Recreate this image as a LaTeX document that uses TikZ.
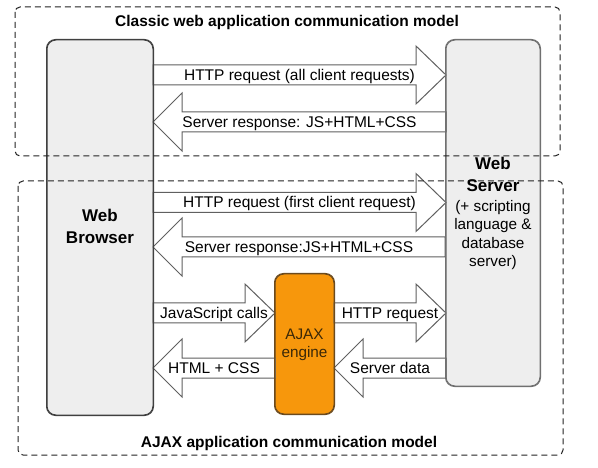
\documentclass[tikz,border=0pt]{standalone}
\usepackage{fontspec}
\setmainfont{Liberation Sans}
\definecolor{boxfill}{HTML}{EEEEEE}
\definecolor{boxline}{HTML}{404040}
\definecolor{srvline}{HTML}{707070}
\definecolor{arrline}{HTML}{606060}
\definecolor{ajaxfill}{HTML}{F7970C}
\definecolor{ajaxline}{HTML}{6B4A1E}
\definecolor{ajaxtext}{HTML}{3A2808}
\definecolor{dashcol}{HTML}{222222}
\newcommand\RArr[5]{% name, x0, x1 (tip), yc, label
  \draw[blockarrow] (#2,#4-10) -- (#3-30,#4-10) -- (#3-30,#4-29) -- (#3,#4)
     -- (#3-30,#4+29) -- (#3-30,#4+10) -- (#2,#4+10) -- cycle;
  \node[lbl] (#1) at ({(#2+#3)/2},#4+5.5) {#5};}
\newcommand\LArr[5]{% name, x0 (tip), x1, yc, label
  \draw[blockarrow] (#3,#4-10) -- (#2+29,#4-10) -- (#2+29,#4-29) -- (#2,#4)
     -- (#2+29,#4+29) -- (#2+29,#4+10) -- (#3,#4+10) -- cycle;
  \node[lbl] (#1) at ({(#2+#3)/2},#4+5.5) {#5};}
\begin{document}
\begin{tikzpicture}[x=1pt,y=-1pt,
  dashbox/.style={draw=dashcol, dash pattern=on 6pt off 4pt, rounded corners=5pt, line width=1pt},
  procbox/.style={rounded corners=9pt, line width=1pt, inner sep=0pt, fill=boxfill},
  blockarrow/.style={draw=arrline, fill=white, line width=1pt, line join=miter},
  lbl/.style={anchor=base, inner sep=0pt, font=\fontsize{15.5}{17}\selectfont},
  ttl/.style={anchor=base, inner sep=0pt, font=\fontsize{15.5}{17}\selectfont\bfseries},
  big/.style={anchor=base, inner sep=0pt, font=\fontsize{17}{20}\selectfont\bfseries},
  sub/.style={anchor=base, inner sep=0pt, font=\fontsize{15.3}{18}\selectfont}]
\useasboundingbox[fill=white] (0,0) rectangle (598,468);

% main boxes
\node[procbox, draw=boxline, minimum width=106pt, minimum height=375pt] (browser) at (100,227.5) {};
\node[procbox, draw=srvline, minimum width=94pt, minimum height=346pt] (server) at (493,213) {};
\node[procbox, draw=ajaxline, fill=ajaxfill, minimum width=59pt, minimum height=140pt] (ajax) at (304.5,344) {};

% block arrows
\RArr{a1}{153}{446}{75}{HTTP request (all client requests)}
\LArr{a2}{153}{446}{122}{Server response: JS+HTML+CSS}
\RArr{a3}{153}{446}{202.5}{HTTP request (first client request)}
\LArr{a4}{153}{445}{247}{Server response:JS+HTML+CSS}
\RArr{a5}{153}{275}{313}{JavaScript calls}
\LArr{a6}{153}{275}{368}{HTML + CSS}
\RArr{a7}{334}{446}{313}{HTTP request}
\LArr{a8}{334}{446}{368}{Server data}

% redraw box borders over arrow ends
\draw[draw=boxline, line width=1pt, rounded corners=9pt] (browser.south west) rectangle (browser.north east);
\draw[draw=srvline, line width=1pt, rounded corners=9pt] (server.south west) rectangle (server.north east);
\draw[draw=ajaxline, line width=1pt, rounded corners=9pt] (ajax.south west) rectangle (ajax.north east);

% dashed groups
\draw[dashbox] (15,7) rectangle (560,156);
\draw[dashbox] (18,181) rectangle (563,455);

% texts
\node[ttl] (classic) at (287,27) {Classic web application communication model};
\node[ttl] (ajaxmodel) at (289,447) {AJAX application communication model};
\node[big] (wb1) at (100,222) {Web};
\node[big] (wb2) at (100,244) {Browser};
\node[big] (ws1) at (493,170) {Web};
\node[big] (ws2) at (493,192) {Server};
\node[sub] (ws3) at (493,211.5) {(+ scripting};
\node[sub] (ws4) at (493,230) {language \&};
\node[sub] (ws5) at (493,248.5) {database};
\node[sub] (ws6) at (493,267) {server)};
\node[sub, text=ajaxtext] (ae1) at (304.5,339) {AJAX};
\node[sub, text=ajaxtext] (ae2) at (304.5,357) {engine};
\end{tikzpicture}
\end{document}
